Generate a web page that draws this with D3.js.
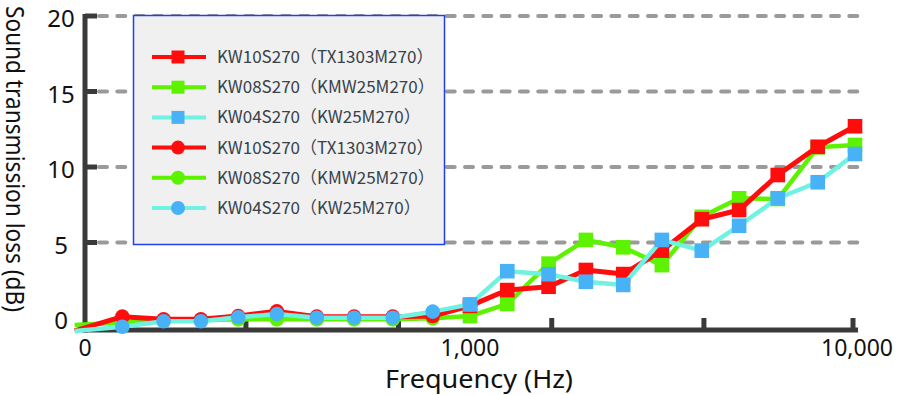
<!DOCTYPE html>
<html lang="en">
<head>
<meta charset="utf-8">
<title>Sound transmission loss</title>
<script src="https://d3js.org/d3.v7.min.js"></script>
<style>
  body { margin: 0; background: #fff; }
  svg { display: block; }
  text { font-family: "Noto Sans", "Open Sans", sans-serif; fill: #111; }
  .legend text { font-family: "Noto Sans CJK JP", "Noto Sans", sans-serif; fill: #37424a; font-size: 17px; }
</style>
</head>
<body>
<script>
// data
const lowFreqs  = [94, 125, 160, 200, 250, 315, 400, 500, 630, 800, 1000];
const highFreqs = [1000, 1250, 1600, 2000, 2500, 3150, 4000, 5000, 6300, 8000, 10000];

// circle series (low range)
const redLow   = [-0.85, 0.09, -0.09, -0.09, 0.13, 0.44, 0.09, 0.09, 0.09, 0.13, 0.8];
const greenLow = [-0.46, -0.3, -0.13, -0.15, -0.09, -0.09, -0.09, -0.09, -0.09, -0.02, 0.13];
const cyanLow  = [-0.86, -0.58, -0.22, -0.22, 0.05, 0.26, 0.02, 0.02, 0.02, 0.42, 0.9];

// square series (high range)
const redHigh   = [0.8, 1.85, 2.07, 3.18, 2.91, 4.46, 6.54, 7.15, 9.47, 11.34, 12.7];
const greenHigh = [0.13, 0.93, 3.6, 5.17, 4.68, 3.5, 6.7, 7.93, 7.88, 11.3, 11.46];
const cyanHigh  = [0.9, 3.1, 2.9, 2.4, 2.19, 5.17, 4.46, 6.11, 7.93, 8.99, 10.86];

const legendNames = ["KW10S270（TX1303M270）", "KW08S270（KMW25M270）", "KW04S270（KW25M270）"];

const yTicks = [0, 5, 10, 15, 20];
const xTickFreqs = [265, 660, 1650, 4100, 10000];
const xLabels = [[100, "0"], [1000, "1,000"], [10000, "10,000"]];

// colours
const red = "#ff0d0d", green = "#5cf200", cyanLine = "#6ff2e2", cyanMark = "#48b2f6";
const axisCol = "#3a3a3a";

const w = 900, h = 395;
const svg = d3.select("body").append("svg").attr("width", w).attr("height", h);

const x = d3.scaleLog().domain([100, 10000]).range([85, 855]);
const y = d3.scaleLinear().domain([0, 20]).range([318, 16]);
const yBottom = 330;

// gridlines
svg.append("g").selectAll("line")
  .data(yTicks.filter(d => d > 0))
  .enter().append("line")
  .attr("x1", 99).attr("x2", 860)
  .attr("y1", d => y(d)).attr("y2", d => y(d))
  .attr("stroke", "#9a9a9a").attr("stroke-width", 4)
  .attr("stroke-linecap", "round")
  .attr("stroke-dasharray", "8,10.3");

// axes
const ax = svg.append("g").attr("stroke", axisCol).attr("stroke-width", 5);
ax.append("line").attr("x1", 85).attr("x2", 85).attr("y1", 14).attr("y2", yBottom + 2.5);
ax.append("line").attr("x1", 82.5).attr("x2", 858).attr("y1", yBottom).attr("y2", yBottom);
ax.selectAll(".yt").data(yTicks.filter(d => d > 0)).enter().append("line")
  .attr("x1", 85).attr("x2", 97).attr("y1", d => y(d)).attr("y2", d => y(d));
ax.selectAll(".xt").data(xTickFreqs).enter().append("line")
  .attr("x1", d => x(d) - 2).attr("x2", d => x(d) - 2)
  .attr("y1", yBottom).attr("y2", yBottom - 12);

// tick labels
svg.append("g").selectAll("text").data(yTicks).enter().append("text")
  .attr("x", 61).attr("y", d => y(d) + 3)
  .attr("dy", "0.35em").attr("text-anchor", "middle")
  .style("font-size", "24px").text(d => d);

svg.append("g").selectAll("text").data(xLabels).enter().append("text")
  .attr("x", d => x(d[0]) + (d[0] === 10000 ? 2 : 0)).attr("y", 356)
  .attr("text-anchor", "middle")
  .style("font-size", "23px").text(d => d[1]);

// axis titles
svg.append("text").attr("x", 479).attr("y", 388)
  .attr("text-anchor", "middle").style("font-size", "25px")
  .attr("textLength", 188).attr("lengthAdjust", "spacingAndGlyphs")
  .text("Frequency (Hz)");
svg.append("text").attr("transform", "translate(6,159) rotate(90)")
  .attr("text-anchor", "middle").style("font-size", "25px")
  .attr("textLength", 306).attr("lengthAdjust", "spacingAndGlyphs")
  .text("Sound transmission loss (dB)");

// series
const line = d3.line().x(d => x(d[0])).y(d => y(d[1]));
const series = [
  { low: greenLow, high: greenHigh, line: green, mark: green, lw: 4.5 },
  { low: redLow, high: redHigh, line: red, mark: red, lw: 5 },
  { low: cyanLow, high: cyanHigh, line: cyanLine, mark: cyanMark, lw: 4.5 }
];

series.forEach(s => {
  const g = svg.append("g");
  const lo = lowFreqs.map((f, i) => [f, s.low[i]]);
  const hi = highFreqs.map((f, i) => [f, s.high[i]]);
  g.append("path").datum(lo).attr("d", line)
    .attr("fill", "none").attr("stroke", s.line).attr("stroke-width", s.lw)
    .attr("stroke-linejoin", "round");
  g.selectAll(".c").data(lo.slice(1)).enter().append("circle")
    .attr("cx", d => x(d[0])).attr("cy", d => y(d[1])).attr("r", 7.3)
    .attr("fill", s.mark);
  g.append("path").datum(hi).attr("d", line)
    .attr("fill", "none").attr("stroke", s.line).attr("stroke-width", s.lw)
    .attr("stroke-linejoin", "round");
  g.selectAll(".s").data(hi).enter().append("rect")
    .attr("x", d => x(d[0]) - 7.3).attr("y", d => y(d[1]) - 7.3)
    .attr("width", 14.6).attr("height", 14.6)
    .attr("fill", s.mark);
});

// legend
const lg = svg.append("g").attr("class", "legend");
lg.append("rect").attr("x", 133.5).attr("y", 15.5).attr("width", 311).attr("height", 229)
  .attr("fill", "#f0f0f0").attr("stroke", "#2040f0").attr("stroke-width", 1.5);

const legendItems = [];
["rect", "circle"].forEach(shape => {
  [series[1], series[0], series[2]].forEach((s, i) => {
    legendItems.push({ shape: shape, name: legendNames[i], s: s });
  });
});
const rowY = d3.scaleLinear().domain([0, 5]).range([57, 208]);
const row = lg.selectAll(".row").data(legendItems).enter().append("g")
  .attr("transform", (d, i) => `translate(0,${rowY(i)})`);
row.append("line").attr("x1", 152).attr("x2", 206)
  .attr("stroke", d => d.s.line).attr("stroke-width", 4);
row.filter(d => d.shape === "rect").append("rect")
  .attr("x", 171.5).attr("y", -6.5).attr("width", 13).attr("height", 13)
  .attr("fill", d => d.s.mark);
row.filter(d => d.shape === "circle").append("circle")
  .attr("cx", 178).attr("r", 7).attr("fill", d => d.s.mark);
row.append("text").attr("x", 217).attr("dy", "0.35em").text(d => d.name);
</script>
</body>
</html>
